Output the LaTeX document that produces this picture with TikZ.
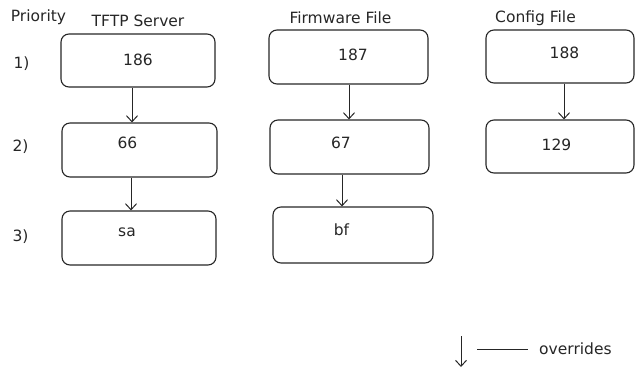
\documentclass[tikz,border=0pt]{standalone}
\usepackage{fontspec}
\setmainfont{DejaVu Sans}
\usetikzlibrary{arrows.meta}
\begin{document}
\begin{tikzpicture}[x=1pt,y=-1pt,
  box/.style={draw=black!85,line width=1.1pt,rounded corners=8pt,minimum width=#1,inner sep=0pt},
  txt/.style={inner sep=0pt,text=black!85,font=\fontsize{15.5}{17}\selectfont},
  arr/.style={draw=black!85,line width=1pt,-{Straight Barb[length=6pt,width=11pt]}},
  ]
\useasboundingbox (0,0) rectangle (635,368);
% headings
\node[txt] (prio) at (38.5,17) {Priority};
\node[txt] (htftp) at (138,21) {TFTP Server};
\node[txt] (hfw) at (340.5,18) {Firmware File};
\node[txt] (hcfg) at (535.5,18) {Config File};
\node[txt] (p1) at (21.5,64) {1)};
\node[txt] (p2) at (20.5,147) {2)};
\node[txt] (p3) at (20.5,237) {3)};
% boxes
\node[box=154pt,minimum height=53pt] (b186) at (138,60.5) {};
\node[box=155pt,minimum height=54pt] (b66) at (139.5,150) {};
\node[box=154pt,minimum height=54pt] (bsa) at (139,238) {};
\node[box=159pt,minimum height=54pt] (b187) at (348.5,57) {};
\node[box=159pt,minimum height=54pt] (b67) at (349.5,147) {};
\node[box=160pt,minimum height=56pt] (bbf) at (353,235) {};
\node[box=148pt,minimum height=53pt] (b188) at (560,56.5) {};
\node[box=148pt,minimum height=53pt] (b129) at (560,146.5) {};
% box texts
\node[txt] (t186) at (138,60) {186};
\node[txt] (t66) at (127.5,143) {66};
\node[txt] (tsa) at (127,232) {sa};
\node[txt] (t187) at (353,55) {187};
\node[txt] (t67) at (341,143) {67};
\node[txt] (tbf) at (341.5,230) {bf};
\node[txt] (t188) at (564.5,53) {188};
\node[txt] (t129) at (556.5,145) {129};
% arrows
\draw[arr] ([xshift=-6pt]b186.south) -- ([xshift=-6pt]b186.south |- b66.north);
\draw[arr] ([xshift=-8.5pt]b66.south) -- ([xshift=-8.5pt]b66.south |- bsa.north);
\draw[arr] ([xshift=0.5pt]b187.south) -- ([xshift=0.5pt]b187.south |- b67.north);
\draw[arr] ([xshift=-7.5pt]b67.south) -- ([xshift=-7.5pt]b67.south |- bbf.north);
\draw[arr] ([xshift=4pt]b188.south) -- ([xshift=4pt]b188.south |- b129.north);
% legend
\coordinate (la) at (461,336);
\coordinate (lb) at (461,367);
\draw[arr] (la) -- (lb);
\coordinate (lc) at (477,349);
\coordinate (ld) at (528,349);
\node[txt,anchor=west] (lov) at (539,349) {overrides};
\draw[draw=black!85,line width=1pt] (lc) -- (ld);
\end{tikzpicture}
\end{document}
